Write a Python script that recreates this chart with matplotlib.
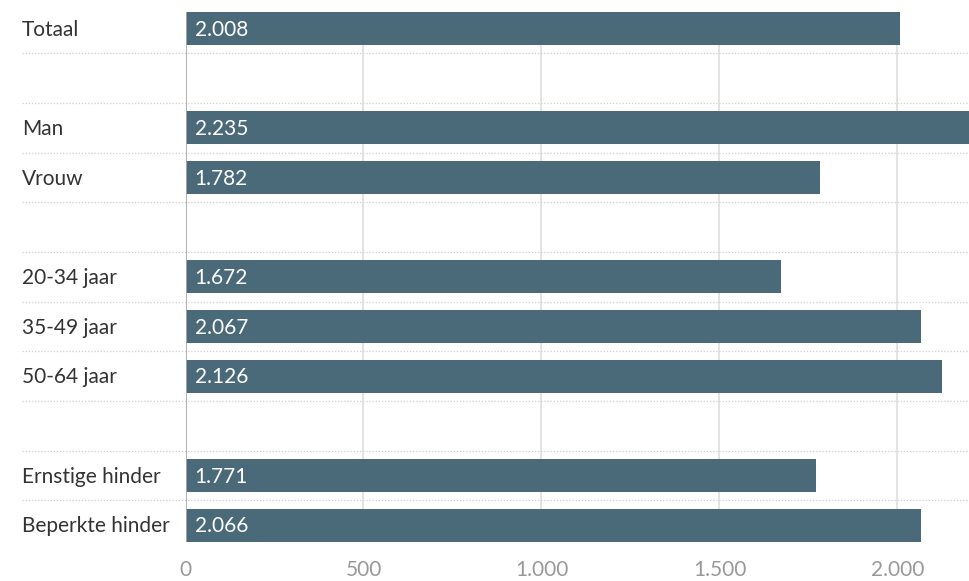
import numpy as np
import matplotlib
matplotlib.use("Agg")
import matplotlib.pyplot as plt
from matplotlib.transforms import blended_transform_factory

# rows top to bottom, empty strings are spacer rows
categories = ["Totaal", "", "Man", "Vrouw", "", "20-34 jaar", "35-49 jaar",
              "50-64 jaar", "", "Ernstige hinder", "Beperkte hinder"]
values = [2008, None, 2235, 1782, None, 1672, 2067, 2126, None, 1771, 2066]
xticks = [0, 500, 1000, 1500, 2000]
xticklabels = ["0", "500", "1.000", "1.500", "2.000"]

BAR = "#4a6a7a"
plt.rcParams["font.family"] = ["Lato", "DejaVu Sans"]

fig = plt.figure(figsize=(9.69, 5.81), dpi=100)
ax = fig.add_axes([185.5 / 969, 1 - 541.7 / 581, 1 - 185.5 / 969, (541.7 - 12) / 581])

bar_h = 0.665
n = len(categories)
ax.set_xlim(0, 2201)
ax.set_ylim(n - 1 + bar_h / 2, -bar_h / 2)

for x in xticks[1:]:
    ax.axvline(x, color="#e3e3e3", lw=1.4, zorder=0)

# dotted separators between rows, reaching out under the labels
for i in range(n - 1):
    ax.axhline(i + 0.5, xmin=(22 - 185.5) / 783.5, xmax=1, color="#cfcfcf",
               lw=0.9, ls=(0, (1, 1.5)), clip_on=False, zorder=0)

ylab = blended_transform_factory(fig.transFigure, ax.transData)
for i, (cat, val) in enumerate(zip(categories, values)):
    if cat:
        ax.text(22 / 969, i + 0.02, cat, transform=ylab, ha="left", va="center",
                fontsize=15, color="#333333")
    if val is not None:
        ax.barh(i, val, height=bar_h, color=BAR, zorder=2)
        ax.annotate(f"{val:,}".replace(",", "."), (0, i + 0.02), xytext=(6.5, 0),
                    textcoords="offset points", ha="left", va="center",
                    fontsize=15, color="white", zorder=3)

ax.axvline(0, color="#aaaaaa", lw=1.3, zorder=3)

ax.set_xticks(xticks)
ax.set_xticklabels(xticklabels)
ax.set_yticks([])
ax.tick_params(axis="x", length=0, labelsize=15, labelcolor="#999999", pad=13)
for s in ax.spines.values():
    s.set_visible(False)

fig.savefig("out.png", dpi=100)
